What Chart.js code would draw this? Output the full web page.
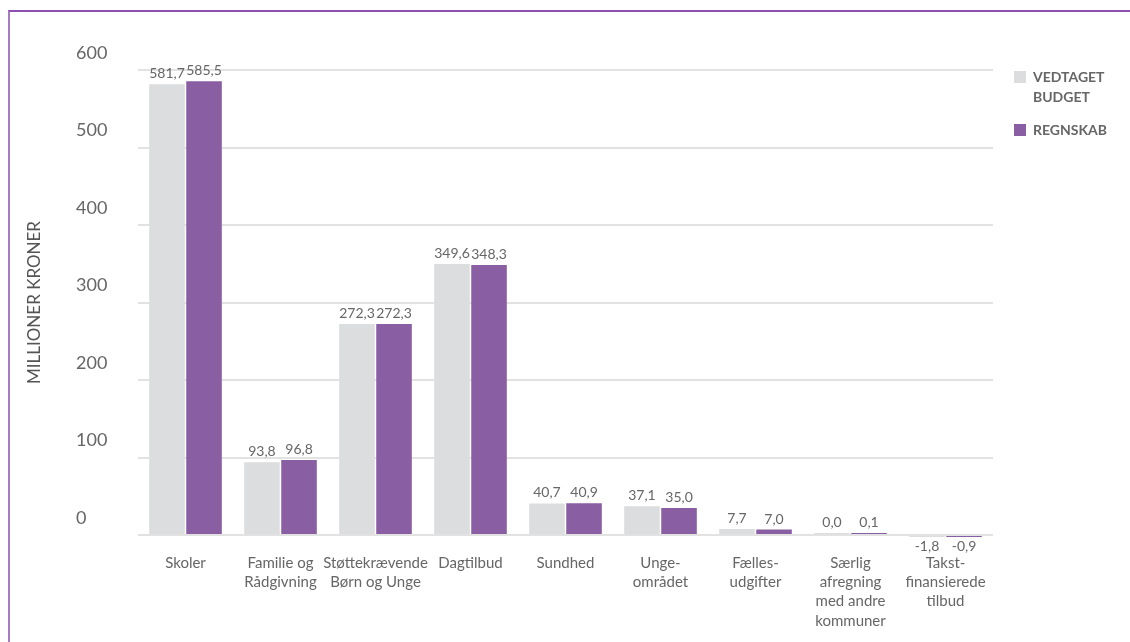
<!DOCTYPE html>
<html><head><meta charset="utf-8">
<script src="https://cdn.jsdelivr.net/npm/chart.js@4"></script>
<style>
html,body{margin:0;padding:0;background:#fff;}
#wrap{position:relative;width:1130px;height:642px;overflow:hidden;}
#frame{position:absolute;left:8px;top:10px;right:0;bottom:0;border-left:2px solid #a67cc0;border-top:2px solid #8e4fb0;}
canvas{position:absolute;left:0;top:0;}
</style></head><body>
<div id="wrap"><div id="frame"></div><canvas id="c" width="1130" height="642"></canvas></div>
<script>
const categories = [
  "Skoler",
  ["Familie og", "Rådgivning"],
  ["Støttekrævende", "Børn og Unge"],
  "Dagtilbud",
  "Sundhed",
  ["Unge-", "området"],
  ["Fælles-", "udgifter"],
  ["Særlig", "afregning", "med andre", "kommuner"],
  ["Takst-", "finansierede", "tilbud"]
];
const budget = [581.7, 93.8, 272.3, 349.6, 40.7, 37.1, 7.7, 0.0, -1.8];
const regnskab = [585.5, 96.8, 272.3, 348.3, 40.9, 35.0, 7.0, 0.1, -0.9];
const seriesNames = [["VEDTAGET", "BUDGET"], ["REGNSKAB"]];
const yTicks = [0, 100, 200, 300, 400, 500, 600];
const yTitle = "MILLIONER KRONER";

const colors = ["#dcddde", "#895ea3"];
const textColor = "#666666";
const fontFamily = "Lato, 'Open Sans', sans-serif";

const fmt = v => v.toFixed(1).replace(".", ",");

const valueLabels = {
  id: "valueLabels",
  afterDatasetsDraw(chart) {
    const ctx = chart.ctx;
    ctx.save();
    ctx.font = "14px " + fontFamily;
    ctx.fillStyle = textColor;
    ctx.textAlign = "center";
    chart.data.datasets.forEach((ds, di) => {
      const meta = chart.getDatasetMeta(di);
      meta.data.forEach((el, i) => {
        const v = ds.data[i];
        if (v >= 0) {
          ctx.textBaseline = "alphabetic";
          ctx.fillText(fmt(v), el.x, Math.min(el.y, el.base) - 6);
        } else {
          ctx.textBaseline = "top";
          ctx.fillText(fmt(v), el.x, Math.max(el.y, el.base) + 2);
        }
      });
    });
    ctx.restore();
  }
};

const sideItems = {
  id: "sideItems",
  afterDraw(chart) {
    const ctx = chart.ctx;
    ctx.save();
    const ca = chart.chartArea;
    ctx.translate(35, (ca.top + ca.bottom) / 2);
    ctx.rotate(-Math.PI / 2);
    ctx.font = "17px " + fontFamily;
    ctx.fillStyle = "#555";
    ctx.textAlign = "center";
    ctx.textBaseline = "middle";
    ctx.fillText(yTitle, 0, 0);
    ctx.restore();
    ctx.save();
    ctx.font = "bold 14px " + fontFamily;
    ctx.textBaseline = "middle";
    ctx.textAlign = "left";
    let y = 77;
    seriesNames.forEach((lines, i) => {
      ctx.fillStyle = colors[i];
      ctx.fillRect(1014, y - 6, 12, 12);
      ctx.fillStyle = textColor;
      lines.forEach((ln, j) => ctx.fillText(ln, 1033, y + j * 20));
      y += lines.length * 20 + 13;
    });
    ctx.restore();
  }
};

new Chart(document.getElementById("c"), {
  type: "bar",
  data: {
    labels: categories,
    datasets: [
      { label: "VEDTAGET BUDGET", data: budget, backgroundColor: colors[0], minBarLength: 2, clip: false },
      { label: "REGNSKAB", data: regnskab, backgroundColor: colors[1], minBarLength: 2, clip: false }
    ]
  },
  options: {
    responsive: false,
    animation: false,
    devicePixelRatio: 1,
    layout: { padding: { left: 76, right: 137, top: 70, bottom: 0 } },
    datasets: { bar: { categoryPercentage: 0.78, barPercentage: 0.96 } },
    plugins: { legend: { display: false }, tooltip: { enabled: false } },
    scales: {
      x: {
        grid: { display: false },
        border: { display: false },
        ticks: { color: textColor, font: { size: 15, family: fontFamily, lineHeight: 1.27 }, padding: 11, maxRotation: 0, autoSkip: false },
        afterFit(scale) { scale.height = 107; }
      },
      y: {
        min: 0, max: 600,
        afterBuildTicks(scale) { scale.ticks = yTicks.map(v => ({ value: v })); },
        grid: { color: "#e2e2e2", lineWidth: 2, drawTicks: false },
        border: { display: false },
        ticks: { color: textColor, font: { size: 18, family: fontFamily }, crossAlign: "far", labelOffset: -17, padding: 0, callback: v => String(v) },
        afterFit(scale) { scale.width = 62; }
      }
    }
  },
  plugins: [valueLabels, sideItems]
});
</script>
</body></html>
